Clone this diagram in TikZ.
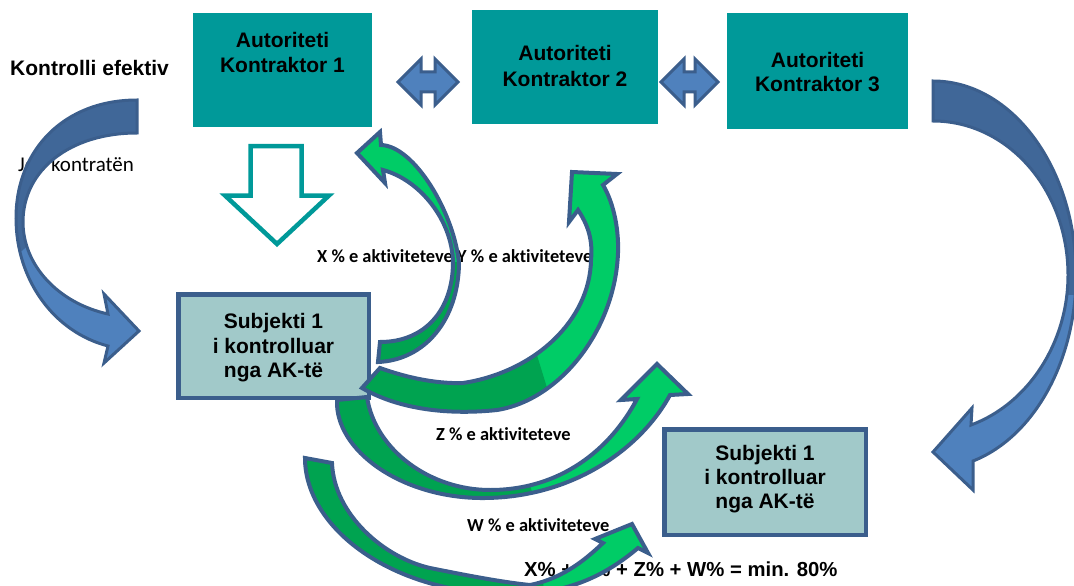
\documentclass[tikz,border=0pt]{standalone}
\usepackage{fontspec}
\setmainfont{Liberation Sans}
\newfontfamily\calibrifont[Ligatures={NoCommon,NoRequired,NoContextual}]{Carlito}
\definecolor{akteal}{RGB}{0,153,153}
\definecolor{subfill}{RGB}{161,201,201}
\definecolor{navyline}{RGB}{59,94,140}
\definecolor{bluefill}{RGB}{79,129,189}
\definecolor{bluedark}{RGB}{64,103,152}
\definecolor{greenbright}{RGB}{0,204,102}
\definecolor{greendark}{RGB}{0,163,80}
\tikzset{
  akbox/.style={fill=akteal, inner sep=0pt, outer sep=0pt},
  subbox/.style={draw=navyline, line width=4.5pt, fill=subfill, inner sep=0pt},
  boxtext/.style={font=\bfseries\fontsize{21}{25}\selectfont, anchor=base, inner sep=0pt},
  plaintext/.style={font=\bfseries\fontsize{21}{25}\selectfont, anchor=base west, inner sep=0pt},
  lbl/.style={font=\calibrifont\bfseries\fontsize{18.4}{22}\selectfont, anchor=base west, inner sep=0pt},
  gline/.style={draw=navyline, line width=4pt, line join=miter},
  bline/.style={draw=navyline, line width=3pt, line join=miter},
}
\begin{document}
\begin{tikzpicture}[x=1pt,y=-1pt]
\useasboundingbox (0,0) rectangle (1074,586);
\clip (0,0) rectangle (1074,586);

% Authority boxes
\node[akbox, minimum width=179pt, minimum height=114pt] (ak1) at (282.5,70) {};
\node[akbox, minimum width=186pt, minimum height=114pt] (ak2) at (565,67) {};
\node[akbox, minimum width=181pt, minimum height=116pt] (ak3) at (817.5,71) {};
\node[boxtext] (ak1a) at (282.5,48) {Autoriteti};
\node[boxtext] (ak1b) at (282.5,73) {Kontraktor 1};
\node[boxtext] (ak2a) at (565,61) {Autoriteti};
\node[boxtext] (ak2b) at (565,87) {Kontraktor 2};
\node[boxtext] (ak3a) at (817.5,67) {Autoriteti};
\node[boxtext] (ak3b) at (817.5,92) {Kontraktor 3};

% double arrows between authorities
\path[fill=bluefill, bline] (398,82) -- (421,59) -- (421,72) -- (435,72) -- (435,59) -- (458,82) -- (435,105) -- (435,92) -- (421,92) -- (421,105) -- cycle;
\path[fill=bluefill, bline] (661,82) -- (684,59) -- (684,72) -- (695,72) -- (695,59) -- (718,82) -- (695,105) -- (695,92) -- (684,92) -- (684,105) -- cycle;

% texts on the left
\node[plaintext] (ke) at (10,75) {Kontrolli efektiv};
\node[font=\calibrifont\fontsize{21}{25}\selectfont, anchor=base west, inner sep=0pt] (jk) at (18,171) {Jep kontratën};

% left blue curved arrow
\def\LBpath{(137,100) .. controls (64,100) and (16,150) .. (16,218) .. controls (16,280) and (54,332) .. (108,346) -- (104,363) -- (139,331) -- (104,294) -- (108,314) .. controls (58,303) and (23,265) .. (23,222) .. controls (23,170) and (70,133) .. (137,133) -- cycle}
\fill[bluefill] \LBpath;
\begin{scope}
  \clip \LBpath;
  \fill[bluedark] (0,60) -- (160,60) -- (160,130) -- (0,270) -- cycle;
\end{scope}
\draw[bline] \LBpath;

% right blue curved arrow
\def\RBpath{(933,81) .. controls (1012,81) and (1076,168) .. (1076,275) .. controls (1076,361) and (1034,437) .. (973,461) -- (973,490) -- (933,452) -- (972,408) -- (971,425) .. controls (1028,404) and (1068,343) .. (1068,275) .. controls (1068,190) and (1008,121) .. (933,121) -- cycle}
\fill[bluefill] \RBpath;
\begin{scope}
  \clip \RBpath;
  \fill[bluedark] (900,60) rectangle (1090,295);
\end{scope}
\draw[bline] \RBpath;

% hollow teal arrow
\draw[akteal, line width=4.5pt, line join=miter, fill=white] (250.5,146) -- (301.5,146) -- (301.5,195.5) -- (329,195.5) -- (277,244) -- (225,195.5) -- (250.5,195.5) -- cycle;

% labels
\node[lbl] (lx) at (317,262) {X \% e aktiviteteve};
\node[lbl] (ly) at (457,262) {Y \% e aktiviteteve};
\node[lbl] (lz) at (436,440) {Z \% e aktiviteteve};
\node[lbl] (lw) at (467,531) {W \% e aktiviteteve};
\node[font=\bfseries\fontsize{20.3}{24}\selectfont, anchor=base west, inner sep=0pt] (sum) at (524,576) {X\% + Y\% + Z\% + W\% = min. 80\%};

% subject boxes
\node[subbox, minimum width=190.5pt, minimum height=103.5pt] (s1) at (273.5,346) {};
\node[boxtext] (s1a) at (273.5,328) {Subjekti 1};
\node[boxtext] (s1b) at (273.5,353) {i kontrolluar};
\node[boxtext] (s1c) at (273.5,377) {nga AK-të};
\node[subbox, minimum width=201.5pt, minimum height=105.5pt] (s2) at (765,482) {};
\node[boxtext] (s2a) at (765,460) {Subjekti 1};
\node[boxtext] (s2b) at (765,484) {i kontrolluar};
\node[boxtext] (s2c) at (765,508) {nga AK-të};

% X arrow
\def\Xpath{(378,362) .. controls (425,360) and (458,320) .. (459,264) .. controls (455,215) and (415,146) .. (381,145) -- (380,132) -- (357,153) -- (385,183) -- (383,170) .. controls (420,180) and (452,220) .. (453,262) .. controls (453,310) and (425,342) .. (380,342) -- cycle}
\fill[greenbright] \Xpath;
\begin{scope}
  \clip \Xpath;
  \fill[greendark] (340,262) rectangle (470,380);
\end{scope}
\draw[gline] \Xpath;

% Z arrow
\def\Zpath{(337,400) .. controls (335,450) and (400,497) .. (480,498) .. controls (570,499) and (640,450) .. (670,395) -- (688,394) -- (657,364) -- (621,400) -- (637,399) .. controls (610,450) and (560,490) .. (490,490) .. controls (430,490) and (375,450) .. (367,397) -- cycle}
\fill[greenbright] \Zpath;
\begin{scope}
  \clip \Zpath;
  \fill[greendark] (320,380) -- (500,380) -- (540,520) -- (320,520) -- cycle;
\end{scope}
\draw[gline] \Zpath;

% Y arrow
\def\Ypath{(362,388) .. controls (400,410) and (450,415) .. (497,410) .. controls (560,400) and (615,330) .. (618,253) .. controls (619,225) and (612,200) .. (603,185) -- (617,174) -- (572,172) -- (569,222) -- (578,210) .. controls (588,225) and (593,240) .. (591,260) .. controls (590,320) and (535,372) .. (463,383) .. controls (435,384) and (405,377) .. (380,368) -- cycle}
\fill[greenbright] \Ypath;
\begin{scope}
  \clip \Ypath;
  \fill[greendark] (330,300) -- (520,300) -- (560,430) -- (330,430) -- cycle;
\end{scope}
\draw[gline] \Ypath;

% W arrow
\def\Wpath{(305,458) .. controls (305,525) and (385,590) .. (500,594) .. controls (560,596) and (600,580) .. (638,548) -- (648,553) -- (632,524) -- (595,539) -- (603,543) .. controls (588,557) and (565,578) .. (530,585) .. controls (500,582) and (460,574) .. (430,568) .. controls (385,558) and (334,515) .. (332,463) -- cycle}
\fill[greenbright] \Wpath;
\begin{scope}
  \clip \Wpath;
  \fill[greendark] (290,440) -- (528,440) -- (545,600) -- (290,600) -- cycle;
\end{scope}
\draw[gline] \Wpath;
\end{tikzpicture}
\end{document}
